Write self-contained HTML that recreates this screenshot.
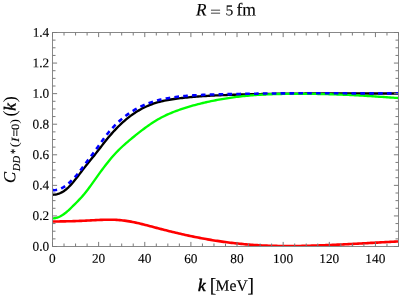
<!DOCTYPE html>
<html><head><meta charset="utf-8"><title>R = 5 fm</title>
<style>
html,body{margin:0;padding:0;background:#fff;}
body{width:400px;height:300px;overflow:hidden;font-family:"Liberation Serif",serif;}
svg{display:block;will-change:transform;font-family:"Liberation Serif",serif;font-kerning:none;}
</style></head><body>
<svg width="400" height="300" viewBox="0 0 400 300">
<rect width="400" height="300" fill="#fff"/>
<defs><clipPath id="c"><rect x="52.5" y="32.5" width="346.0" height="214.0"/></clipPath></defs>
<g clip-path="url(#c)" fill="none" stroke-linejoin="round">
<path d="M52.5 221.47 L54.1 221.46 L55.7 221.46 L57.3 221.45 L58.9 221.43 L60.5 221.42 L62.1 221.40 L63.7 221.37 L65.3 221.34 L66.9 221.31 L68.5 221.28 L70.1 221.24 L71.7 221.19 L73.3 221.15 L74.9 221.09 L76.5 221.04 L78.1 220.98 L79.7 220.92 L81.3 220.85 L82.9 220.78 L84.5 220.71 L86.1 220.63 L87.7 220.55 L89.3 220.46 L90.9 220.38 L92.5 220.29 L94.1 220.21 L95.7 220.12 L97.3 220.04 L98.9 219.97 L100.5 219.90 L102.1 219.84 L103.7 219.79 L105.3 219.75 L106.9 219.72 L108.5 219.71 L110.1 219.71 L111.7 219.73 L113.3 219.76 L114.9 219.82 L116.5 219.90 L118.1 219.99 L119.7 220.11 L121.3 220.26 L122.9 220.43 L124.5 220.63 L126.1 220.85 L127.7 221.10 L129.3 221.37 L130.9 221.65 L132.5 221.96 L134.1 222.28 L135.7 222.62 L137.3 222.98 L138.9 223.35 L140.5 223.73 L142.1 224.12 L143.7 224.52 L145.3 224.92 L146.9 225.34 L148.5 225.76 L150.1 226.18 L151.7 226.60 L153.3 227.03 L154.9 227.46 L156.5 227.88 L158.1 228.30 L159.7 228.72 L161.3 229.13 L162.9 229.55 L164.5 229.95 L166.1 230.36 L167.7 230.76 L169.3 231.16 L170.9 231.55 L172.5 231.94 L174.1 232.33 L175.7 232.71 L177.3 233.09 L178.9 233.46 L180.5 233.83 L182.1 234.20 L183.7 234.56 L185.3 234.91 L186.9 235.27 L188.5 235.61 L190.1 235.95 L191.7 236.29 L193.3 236.62 L194.9 236.95 L196.5 237.27 L198.1 237.58 L199.7 237.89 L201.3 238.20 L202.9 238.49 L204.5 238.79 L206.1 239.07 L207.7 239.35 L209.3 239.63 L210.9 239.90 L212.5 240.16 L214.1 240.42 L215.7 240.67 L217.3 240.91 L218.9 241.15 L220.5 241.39 L222.1 241.62 L223.7 241.84 L225.3 242.06 L226.9 242.27 L228.5 242.47 L230.1 242.67 L231.7 242.86 L233.3 243.05 L234.9 243.23 L236.5 243.41 L238.1 243.58 L239.7 243.74 L241.3 243.90 L242.9 244.05 L244.5 244.20 L246.1 244.34 L247.7 244.48 L249.3 244.60 L250.9 244.73 L252.5 244.85 L254.1 244.96 L255.7 245.06 L257.3 245.16 L258.9 245.26 L260.5 245.34 L262.1 245.43 L263.7 245.50 L265.3 245.57 L266.9 245.64 L268.5 245.70 L270.1 245.75 L271.7 245.80 L273.3 245.85 L274.9 245.89 L276.5 245.92 L278.1 245.95 L279.7 245.98 L281.3 246.00 L282.9 246.01 L284.5 246.03 L286.1 246.03 L287.7 246.04 L289.3 246.04 L290.9 246.03 L292.5 246.02 L294.1 246.01 L295.7 246.00 L297.3 245.98 L298.9 245.95 L300.5 245.93 L302.1 245.90 L303.7 245.87 L305.3 245.83 L306.9 245.79 L308.5 245.75 L310.1 245.71 L311.7 245.66 L313.3 245.61 L314.9 245.56 L316.5 245.51 L318.1 245.45 L319.7 245.39 L321.3 245.34 L322.9 245.27 L324.5 245.21 L326.1 245.15 L327.7 245.08 L329.3 245.01 L330.9 244.94 L332.5 244.87 L334.1 244.80 L335.7 244.73 L337.3 244.65 L338.9 244.58 L340.5 244.50 L342.1 244.43 L343.7 244.35 L345.3 244.27 L346.9 244.19 L348.5 244.11 L350.1 244.03 L351.7 243.95 L353.3 243.86 L354.9 243.78 L356.5 243.70 L358.1 243.61 L359.7 243.53 L361.3 243.44 L362.9 243.36 L364.5 243.27 L366.1 243.18 L367.7 243.10 L369.3 243.01 L370.9 242.92 L372.5 242.84 L374.1 242.75 L375.7 242.66 L377.3 242.58 L378.9 242.49 L380.5 242.40 L382.1 242.32 L383.7 242.23 L385.3 242.14 L386.9 242.06 L388.5 241.97 L390.1 241.89 L391.7 241.80 L393.3 241.72 L394.9 241.64 L396.5 241.55 L398.5 241.45" stroke="#ff0000" stroke-width="2.6"/>
<path d="M52.5 194.73 L54.1 194.70 L55.7 194.51 L57.3 194.16 L58.9 193.65 L60.5 192.98 L62.1 192.16 L63.7 191.19 L65.3 190.05 L66.9 188.73 L68.5 187.26 L70.1 185.66 L71.7 183.92 L73.3 182.06 L74.9 180.09 L76.5 178.06 L78.1 175.98 L79.7 173.87 L81.3 171.76 L82.9 169.66 L84.5 167.61 L86.1 165.59 L87.7 163.59 L89.3 161.60 L90.9 159.60 L92.5 157.61 L94.1 155.64 L95.7 153.62 L97.3 151.58 L98.9 149.52 L100.5 147.45 L102.1 145.38 L103.7 143.33 L105.3 141.30 L106.9 139.31 L108.5 137.36 L110.1 135.47 L111.7 133.63 L113.3 131.84 L114.9 130.11 L116.5 128.43 L118.1 126.80 L119.7 125.23 L121.3 123.70 L122.9 122.24 L124.5 120.82 L126.1 119.46 L127.7 118.15 L129.3 116.89 L130.9 115.68 L132.5 114.52 L134.1 113.40 L135.7 112.34 L137.3 111.33 L138.9 110.37 L140.5 109.45 L142.1 108.58 L143.7 107.75 L145.3 106.98 L146.9 106.24 L148.5 105.55 L150.1 104.91 L151.7 104.30 L153.3 103.73 L154.9 103.20 L156.5 102.70 L158.1 102.23 L159.7 101.80 L161.3 101.39 L162.9 101.01 L164.5 100.66 L166.1 100.33 L167.7 100.02 L169.3 99.74 L170.9 99.47 L172.5 99.22 L174.1 98.98 L175.7 98.76 L177.3 98.55 L178.9 98.35 L180.5 98.16 L182.1 97.98 L183.7 97.80 L185.3 97.63 L186.9 97.46 L188.5 97.31 L190.1 97.16 L191.7 97.01 L193.3 96.88 L194.9 96.74 L196.5 96.62 L198.1 96.49 L199.7 96.38 L201.3 96.27 L202.9 96.16 L204.5 96.06 L206.1 95.96 L207.7 95.87 L209.3 95.78 L210.9 95.69 L212.5 95.61 L214.1 95.53 L215.7 95.45 L217.3 95.38 L218.9 95.31 L220.5 95.24 L222.1 95.18 L223.7 95.11 L225.3 95.05 L226.9 94.99 L228.5 94.93 L230.1 94.87 L231.7 94.82 L233.3 94.76 L234.9 94.71 L236.5 94.66 L238.1 94.61 L239.7 94.56 L241.3 94.51 L242.9 94.47 L244.5 94.42 L246.1 94.38 L247.7 94.34 L249.3 94.30 L250.9 94.26 L252.5 94.22 L254.1 94.18 L255.7 94.15 L257.3 94.11 L258.9 94.08 L260.5 94.05 L262.1 94.02 L263.7 93.99 L265.3 93.96 L266.9 93.93 L268.5 93.90 L270.1 93.88 L271.7 93.85 L273.3 93.83 L274.9 93.81 L276.5 93.79 L278.1 93.77 L279.7 93.75 L281.3 93.73 L282.9 93.71 L284.5 93.69 L286.1 93.68 L287.7 93.66 L289.3 93.65 L290.9 93.63 L292.5 93.62 L294.1 93.61 L295.7 93.60 L297.3 93.58 L298.9 93.57 L300.5 93.56 L302.1 93.56 L303.7 93.55 L305.3 93.54 L306.9 93.53 L308.5 93.53 L310.1 93.52 L311.7 93.51 L313.3 93.51 L314.9 93.51 L316.5 93.50 L318.1 93.50 L319.7 93.50 L321.3 93.49 L322.9 93.49 L324.5 93.49 L326.1 93.49 L327.7 93.49 L329.3 93.49 L330.9 93.48 L332.5 93.48 L334.1 93.48 L335.7 93.49 L337.3 93.49 L338.9 93.49 L340.5 93.49 L342.1 93.49 L343.7 93.49 L345.3 93.49 L346.9 93.49 L348.5 93.49 L350.1 93.50 L351.7 93.50 L353.3 93.50 L354.9 93.50 L356.5 93.50 L358.1 93.51 L359.7 93.51 L361.3 93.51 L362.9 93.51 L364.5 93.51 L366.1 93.51 L367.7 93.52 L369.3 93.52 L370.9 93.52 L372.5 93.52 L374.1 93.52 L375.7 93.52 L377.3 93.52 L378.9 93.52 L380.5 93.52 L382.1 93.52 L383.7 93.52 L385.3 93.52 L386.9 93.52 L388.5 93.52 L390.1 93.51 L391.7 93.51 L393.3 93.51 L394.9 93.50 L396.5 93.50 L398.5 93.49" stroke="#000" stroke-width="2.35"/>
<path d="M52.5 218.31 L54.1 218.23 L55.7 217.98 L57.3 217.57 L58.9 216.99 L60.5 216.24 L62.1 215.33 L63.7 214.26 L65.3 213.05 L66.9 211.73 L68.5 210.31 L70.1 208.82 L71.7 207.27 L73.3 205.70 L74.9 204.11 L76.5 202.51 L78.1 200.87 L79.7 199.18 L81.3 197.44 L82.9 195.63 L84.5 193.74 L86.1 191.76 L87.7 189.70 L89.3 187.57 L90.9 185.38 L92.5 183.15 L94.1 180.90 L95.7 178.63 L97.3 176.37 L98.9 174.13 L100.5 171.91 L102.1 169.73 L103.7 167.58 L105.3 165.48 L106.9 163.42 L108.5 161.41 L110.1 159.46 L111.7 157.56 L113.3 155.72 L114.9 153.95 L116.5 152.24 L118.1 150.60 L119.7 149.01 L121.3 147.48 L122.9 145.99 L124.5 144.55 L126.1 143.14 L127.7 141.77 L129.3 140.42 L130.9 139.09 L132.5 137.78 L134.1 136.48 L135.7 135.19 L137.3 133.91 L138.9 132.64 L140.5 131.40 L142.1 130.17 L143.7 128.96 L145.3 127.77 L146.9 126.61 L148.5 125.47 L150.1 124.36 L151.7 123.28 L153.3 122.24 L154.9 121.23 L156.5 120.26 L158.1 119.32 L159.7 118.43 L161.3 117.56 L162.9 116.74 L164.5 115.94 L166.1 115.18 L167.7 114.44 L169.3 113.73 L170.9 113.05 L172.5 112.40 L174.1 111.77 L175.7 111.16 L177.3 110.57 L178.9 109.99 L180.5 109.44 L182.1 108.90 L183.7 108.38 L185.3 107.87 L186.9 107.37 L188.5 106.88 L190.1 106.41 L191.7 105.94 L193.3 105.49 L194.9 105.05 L196.5 104.62 L198.1 104.20 L199.7 103.80 L201.3 103.40 L202.9 103.01 L204.5 102.63 L206.1 102.27 L207.7 101.91 L209.3 101.56 L210.9 101.22 L212.5 100.89 L214.1 100.57 L215.7 100.26 L217.3 99.95 L218.9 99.66 L220.5 99.37 L222.1 99.09 L223.7 98.82 L225.3 98.56 L226.9 98.30 L228.5 98.06 L230.1 97.82 L231.7 97.59 L233.3 97.37 L234.9 97.15 L236.5 96.95 L238.1 96.75 L239.7 96.56 L241.3 96.37 L242.9 96.20 L244.5 96.03 L246.1 95.87 L247.7 95.72 L249.3 95.57 L250.9 95.43 L252.5 95.30 L254.1 95.18 L255.7 95.06 L257.3 94.95 L258.9 94.85 L260.5 94.75 L262.1 94.66 L263.7 94.58 L265.3 94.50 L266.9 94.42 L268.5 94.35 L270.1 94.29 L271.7 94.23 L273.3 94.18 L274.9 94.13 L276.5 94.08 L278.1 94.04 L279.7 94.01 L281.3 93.97 L282.9 93.94 L284.5 93.92 L286.1 93.90 L287.7 93.88 L289.3 93.86 L290.9 93.85 L292.5 93.84 L294.1 93.83 L295.7 93.82 L297.3 93.82 L298.9 93.82 L300.5 93.82 L302.1 93.82 L303.7 93.83 L305.3 93.83 L306.9 93.84 L308.5 93.86 L310.1 93.87 L311.7 93.89 L313.3 93.90 L314.9 93.93 L316.5 93.95 L318.1 93.98 L319.7 94.00 L321.3 94.03 L322.9 94.07 L324.5 94.10 L326.1 94.14 L327.7 94.18 L329.3 94.22 L330.9 94.27 L332.5 94.31 L334.1 94.36 L335.7 94.42 L337.3 94.47 L338.9 94.53 L340.5 94.59 L342.1 94.65 L343.7 94.72 L345.3 94.78 L346.9 94.85 L348.5 94.93 L350.1 95.00 L351.7 95.08 L353.3 95.16 L354.9 95.24 L356.5 95.33 L358.1 95.42 L359.7 95.51 L361.3 95.60 L362.9 95.69 L364.5 95.79 L366.1 95.89 L367.7 95.99 L369.3 96.09 L370.9 96.19 L372.5 96.29 L374.1 96.40 L375.7 96.50 L377.3 96.61 L378.9 96.71 L380.5 96.82 L382.1 96.93 L383.7 97.04 L385.3 97.15 L386.9 97.26 L388.5 97.36 L390.1 97.47 L391.7 97.58 L393.3 97.69 L394.9 97.80 L396.5 97.90 L398.5 98.04" stroke="#00ff00" stroke-width="2.35"/>
<path d="M52.5 190.19 L54.1 190.17 L55.7 190.02 L57.3 189.71 L58.9 189.26 L60.5 188.70 L62.1 187.98 L63.7 187.06 L65.3 186.02 L66.9 184.85 L68.5 183.53 L70.1 182.02 L71.7 180.41 L73.3 178.74 L74.9 177.04 L76.5 175.27 L78.1 173.34 L79.7 171.28 L81.3 169.17 L82.9 167.06 L84.5 164.90 L86.1 162.74 L87.7 160.63 L89.3 158.51 L90.9 156.38 L92.5 154.25 L94.1 152.09 L95.7 149.88 L97.3 147.65 L98.9 145.40 L100.5 143.15 L102.1 140.92 L103.7 138.73 L105.3 136.58 L106.9 134.50 L108.5 132.51 L110.1 130.60 L111.7 128.77 L113.3 127.03 L114.9 125.36 L116.5 123.77 L118.1 122.25 L119.7 120.79 L121.3 119.39 L122.9 118.05 L124.5 116.77 L126.1 115.54 L127.7 114.36 L129.3 113.24 L130.9 112.16 L132.5 111.14 L134.1 110.16 L135.7 109.22 L137.3 108.34 L138.9 107.49 L140.5 106.69 L142.1 105.93 L143.7 105.20 L145.3 104.52 L146.9 103.87 L148.5 103.26 L150.1 102.68 L151.7 102.14 L153.3 101.62 L154.9 101.14 L156.5 100.69 L158.1 100.26 L159.7 99.86 L161.3 99.48 L162.9 99.13 L164.5 98.81 L166.1 98.50 L167.7 98.21 L169.3 97.94 L170.9 97.69 L172.5 97.46 L174.1 97.24 L175.7 97.03 L177.3 96.83 L178.9 96.65 L180.5 96.48 L182.1 96.31 L183.7 96.16 L185.3 96.01 L186.9 95.87 L188.5 95.74 L190.1 95.62 L191.7 95.50 L193.3 95.39 L194.9 95.29 L196.5 95.19 L198.1 95.10 L199.7 95.02 L201.3 94.94 L202.9 94.87 L204.5 94.80 L206.1 94.73 L207.7 94.67 L209.3 94.62 L210.9 94.57 L212.5 94.52 L214.1 94.47 L215.7 94.43 L217.3 94.39 L218.9 94.35 L220.5 94.31 L222.1 94.27 L223.7 94.24 L225.3 94.21 L226.9 94.17 L228.5 94.14 L230.1 94.11 L231.7 94.08 L233.3 94.05 L234.9 94.02 L236.5 93.99 L238.1 93.96 L239.7 93.93 L241.3 93.90 L242.9 93.87 L244.5 93.85 L246.1 93.82 L247.7 93.80 L249.3 93.77 L250.9 93.75 L252.5 93.72 L254.1 93.70 L255.7 93.68 L257.3 93.65 L258.9 93.63 L260.5 93.61 L262.1 93.59 L263.7 93.57 L265.3 93.55 L266.9 93.53 L268.5 93.52 L270.1 93.50 L271.7 93.48 L273.3 93.47 L274.9 93.45 L276.5 93.44 L278.1 93.42 L279.7 93.41 L281.3 93.40 L282.9 93.38 L284.5 93.37 L286.1 93.36 L287.7 93.35 L289.3 93.34 L290.9 93.33 L292.5 93.33 L294.1 93.32 L295.7 93.31 L297.3 93.31 L298.9 93.30 L300.5 93.30 L302.1 93.29 L303.7 93.29 L305.3 93.29 L306.9 93.28 L308.5 93.28 L310.1 93.28 L311.7 93.28 L313.3 93.28 L314.9 93.28 L316.5 93.28 L318.1 93.28 L319.7 93.28 L321.3 93.28 L322.9 93.28 L324.5 93.28 L326.1 93.29 L327.7 93.29 L329.3 93.29 L330.9 93.29 L332.5 93.30 L334.1 93.30 L335.7 93.30 L337.3 93.31 L338.9 93.31 L340.5 93.31 L342.1 93.32 L343.7 93.32 L345.3 93.32 L346.9 93.33 L348.5 93.33 L350.1 93.34 L351.7 93.34 L353.3 93.34 L354.9 93.34 L356.5 93.35 L358.1 93.35 L359.7 93.35 L361.3 93.36 L362.9 93.36 L364.5 93.36 L366.1 93.36 L367.7 93.36 L369.3 93.36 L370.9 93.36 L372.5 93.36 L374.1 93.36 L375.7 93.36 L377.3 93.36 L378.9 93.36 L380.5 93.36 L382.1 93.35 L383.7 93.35 L385.3 93.35 L386.9 93.34 L388.5 93.34 L390.1 93.33 L391.7 93.33 L393.3 93.32 L394.9 93.31 L396.5 93.30 L398.5 93.29" stroke="#0000ff" stroke-width="2.6" stroke-dasharray="4.66 4.2" stroke-dashoffset="0"/>
</g>
<g fill="none" stroke="#888" stroke-width="1">
<rect x="52.5" y="32.5" width="346.0" height="214.0"/>
<path d="M52.50 246.5 v-4.6 M52.50 32.5 v4.6 M64.03 246.5 v-3.0 M64.03 32.5 v3.0 M75.57 246.5 v-3.0 M75.57 32.5 v3.0 M87.10 246.5 v-3.0 M87.10 32.5 v3.0 M98.63 246.5 v-4.6 M98.63 32.5 v4.6 M110.17 246.5 v-3.0 M110.17 32.5 v3.0 M121.70 246.5 v-3.0 M121.70 32.5 v3.0 M133.23 246.5 v-3.0 M133.23 32.5 v3.0 M144.77 246.5 v-4.6 M144.77 32.5 v4.6 M156.30 246.5 v-3.0 M156.30 32.5 v3.0 M167.83 246.5 v-3.0 M167.83 32.5 v3.0 M179.37 246.5 v-3.0 M179.37 32.5 v3.0 M190.90 246.5 v-4.6 M190.90 32.5 v4.6 M202.43 246.5 v-3.0 M202.43 32.5 v3.0 M213.97 246.5 v-3.0 M213.97 32.5 v3.0 M225.50 246.5 v-3.0 M225.50 32.5 v3.0 M237.03 246.5 v-4.6 M237.03 32.5 v4.6 M248.57 246.5 v-3.0 M248.57 32.5 v3.0 M260.10 246.5 v-3.0 M260.10 32.5 v3.0 M271.63 246.5 v-3.0 M271.63 32.5 v3.0 M283.17 246.5 v-4.6 M283.17 32.5 v4.6 M294.70 246.5 v-3.0 M294.70 32.5 v3.0 M306.23 246.5 v-3.0 M306.23 32.5 v3.0 M317.77 246.5 v-3.0 M317.77 32.5 v3.0 M329.30 246.5 v-4.6 M329.30 32.5 v4.6 M340.83 246.5 v-3.0 M340.83 32.5 v3.0 M352.37 246.5 v-3.0 M352.37 32.5 v3.0 M363.90 246.5 v-3.0 M363.90 32.5 v3.0 M375.43 246.5 v-4.6 M375.43 32.5 v4.6 M386.97 246.5 v-3.0 M386.97 32.5 v3.0 M398.50 246.5 v-3.0 M398.50 32.5 v3.0 M52.5 246.50 h4.6 M398.5 246.50 h-4.6 M52.5 238.86 h3.0 M398.5 238.86 h-3.0 M52.5 231.21 h3.0 M398.5 231.21 h-3.0 M52.5 223.57 h3.0 M398.5 223.57 h-3.0 M52.5 215.93 h4.6 M398.5 215.93 h-4.6 M52.5 208.29 h3.0 M398.5 208.29 h-3.0 M52.5 200.64 h3.0 M398.5 200.64 h-3.0 M52.5 193.00 h3.0 M398.5 193.00 h-3.0 M52.5 185.36 h4.6 M398.5 185.36 h-4.6 M52.5 177.71 h3.0 M398.5 177.71 h-3.0 M52.5 170.07 h3.0 M398.5 170.07 h-3.0 M52.5 162.43 h3.0 M398.5 162.43 h-3.0 M52.5 154.79 h4.6 M398.5 154.79 h-4.6 M52.5 147.14 h3.0 M398.5 147.14 h-3.0 M52.5 139.50 h3.0 M398.5 139.50 h-3.0 M52.5 131.86 h3.0 M398.5 131.86 h-3.0 M52.5 124.21 h4.6 M398.5 124.21 h-4.6 M52.5 116.57 h3.0 M398.5 116.57 h-3.0 M52.5 108.93 h3.0 M398.5 108.93 h-3.0 M52.5 101.29 h3.0 M398.5 101.29 h-3.0 M52.5 93.64 h4.6 M398.5 93.64 h-4.6 M52.5 86.00 h3.0 M398.5 86.00 h-3.0 M52.5 78.36 h3.0 M398.5 78.36 h-3.0 M52.5 70.71 h3.0 M398.5 70.71 h-3.0 M52.5 63.07 h4.6 M398.5 63.07 h-4.6 M52.5 55.43 h3.0 M398.5 55.43 h-3.0 M52.5 47.79 h3.0 M398.5 47.79 h-3.0 M52.5 40.14 h3.0 M398.5 40.14 h-3.0 M52.5 32.50 h4.6 M398.5 32.50 h-4.6" stroke="#7a7a7a" stroke-width="1"/>
</g>
<g font-size="13.3px" fill="#000" stroke="#000" stroke-width="0.12" transform="rotate(0.04 200 150)"><text x="52.50" y="262.9" text-anchor="middle">0</text><text x="98.63" y="262.9" text-anchor="middle">20</text><text x="144.77" y="262.9" text-anchor="middle">40</text><text x="190.90" y="262.9" text-anchor="middle">60</text><text x="237.03" y="262.9" text-anchor="middle">80</text><text x="283.17" y="262.9" text-anchor="middle">100</text><text x="329.30" y="262.9" text-anchor="middle">120</text><text x="375.43" y="262.9" text-anchor="middle">140</text><text x="49.2" y="250.80" text-anchor="end">0.0</text><text x="49.2" y="220.23" text-anchor="end">0.2</text><text x="49.2" y="189.66" text-anchor="end">0.4</text><text x="49.2" y="159.09" text-anchor="end">0.6</text><text x="49.2" y="128.51" text-anchor="end">0.8</text><text x="49.2" y="97.94" text-anchor="end">1.0</text><text x="49.2" y="67.37" text-anchor="end">1.2</text><text x="49.2" y="36.80" text-anchor="end">1.4</text></g>
<g fill="#000" stroke="#000" stroke-width="0.15" transform="rotate(0.04 225 150)"><text transform="translate(195.89,15.40) scale(0.974,1.000)" font-size="17.64px" font-style="italic">R</text><text transform="translate(210.03,16.74) scale(1.270,1.000)" font-size="15.40px" stroke-width="0.01">=</text><text transform="translate(225.29,15.26) scale(1.061,1.000)" font-size="14.75px" stroke-width="0.05">5</text><text transform="translate(236.36,15.40) scale(0.966,1.000)" font-size="18.18px">fm</text><text transform="translate(198.16,290.90) scale(0.969,1.000)" font-size="17.66px" font-style="italic" stroke-width="0.55">k</text><text transform="translate(209.80,291.77) scale(0.992,1.000)" font-size="19.69px">[</text><text transform="translate(215.70,290.76) scale(0.988,1.000)" font-size="15.82px">MeV</text><text transform="translate(247.64,291.77) scale(0.992,1.000)" font-size="19.69px">]</text></g>
<g transform="rotate(-90.04)" fill="#000" stroke="#000" stroke-width="0.15"><text transform="translate(-182.92,15.24) scale(0.977,1.000)" font-size="16.98px" font-style="italic">C</text><text transform="translate(-170.89,19.98) scale(0.954,1.000)" font-size="10.66px" font-style="italic">D</text><text transform="translate(-163.29,19.98) scale(0.954,1.000)" font-size="10.66px" font-style="italic">D</text><text transform="translate(-154.10,18.38) scale(0.867,1.000)" font-size="11.73px">*</text><text transform="translate(-147.25,18.37) scale(1.198,1.000)" font-size="12.35px" stroke-width="0.05">(</text><text transform="translate(-142.14,18.80) scale(1.306,1.000)" font-size="11.00px" font-style="italic">I</text><text transform="translate(-136.51,20.06) scale(0.828,1.000)" font-size="14.80px">=</text><text transform="translate(-129.98,18.89) scale(1.125,1.000)" font-size="11.11px">0</text><text transform="translate(-123.85,18.37) scale(1.135,1.000)" font-size="12.35px" stroke-width="0.05">)</text><text transform="translate(-116.59,15.63) scale(0.984,1.000)" font-size="18.20px" stroke-width="0.01">(</text><text transform="translate(-110.70,15.50) scale(1.021,1.000)" font-size="16.86px" font-style="italic" stroke-width="0.4">k</text><text transform="translate(-102.38,15.63) scale(0.984,1.000)" font-size="18.20px" stroke-width="0.01">)</text></g>
</svg>
</body></html>
